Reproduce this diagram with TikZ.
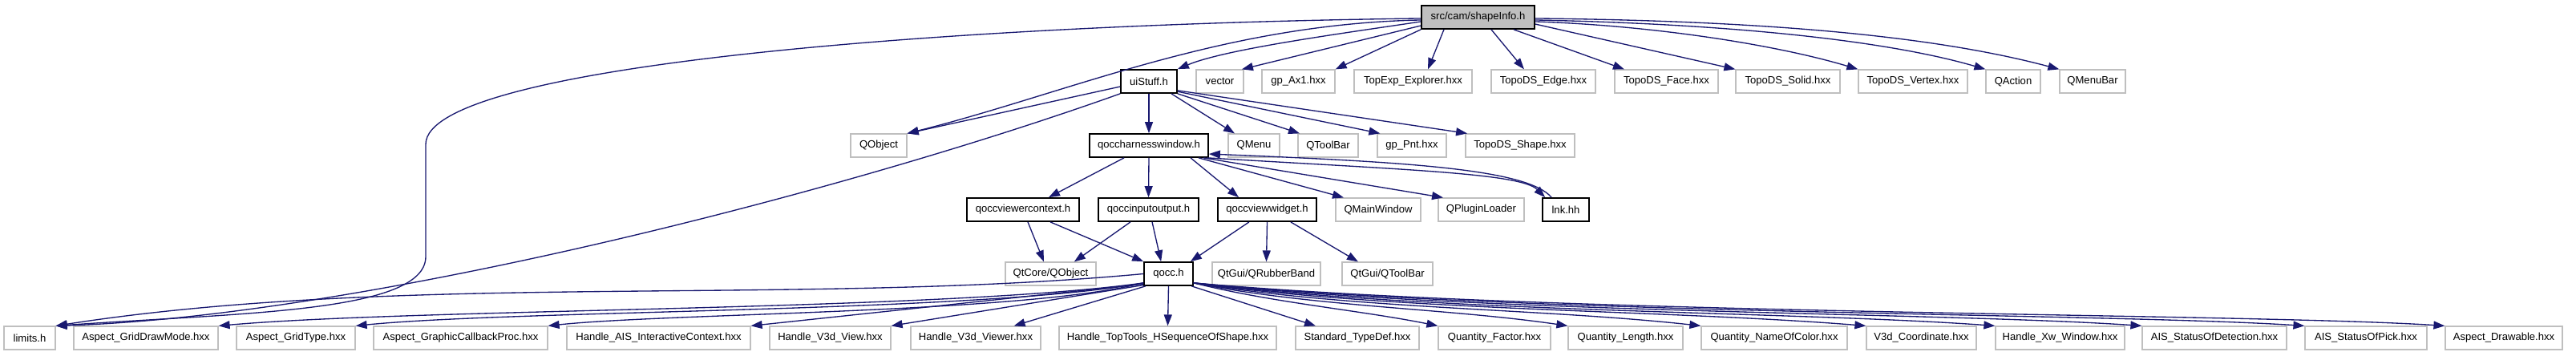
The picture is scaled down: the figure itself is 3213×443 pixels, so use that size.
\documentclass[tikz,border=0pt]{standalone}
\usepackage{fontspec}
\setmainfont{Liberation Sans}
\usetikzlibrary{arrows.meta}
\definecolor{edgeblue}{HTML}{191970}
\definecolor{boxgray}{HTML}{BFBFBF}

\begin{document}
\begin{tikzpicture}[
    x=0.75pt, y=-0.75pt,
    file/.style={draw=boxgray, line width=0.9pt, minimum height=21.75pt, inner sep=0pt, font=\fontsize{9.8}{11.8}\selectfont},
    docfile/.style={file, draw=black, line width=1.3pt},
    rootfile/.style={docfile, fill=boxgray},
    arr/.style={-{Triangle[length=10.5pt,width=7.5pt]}, draw=edgeblue, line width=1pt}
  ]
    \useasboundingbox (0,0) rectangle (3213,443);
    % rank 0
    \node[rootfile, minimum width=105.75pt] (shapeinfo) at (1843.5,21.5) {src/cam/shapeInfo.h};
    % rank 1
    \node[docfile, minimum width=52.5pt] (uistuff) at (1433,101.5) {uiStuff.h};
    \node[file, minimum width=44.25pt] (vector) at (1521.5,101.5) {vector};
    \node[file, minimum width=68.25pt] (gpaxone) at (1619.5,101.5) {gp\_Ax1.hxx};
    \node[file, minimum width=110.25pt] (topexp) at (1762.5,101.5) {TopExp\_Explorer.hxx};
    \node[file, minimum width=97.5pt] (tedge) at (1925,101.5) {TopoDS\_Edge.hxx};
    \node[file, minimum width=96.75pt] (tface) at (2078.5,101.5) {TopoDS\_Face.hxx};
    \node[file, minimum width=97.5pt] (tsolid) at (2230,101.5) {TopoDS\_Solid.hxx};
    \node[file, minimum width=102pt] (tvertex) at (2386,101.5) {TopoDS\_Vertex.hxx};
    \node[file, minimum width=51pt] (qaction) at (2511,101.5) {QAction};
    \node[file, minimum width=61.5pt] (qmenubar) at (2610,101.5) {QMenuBar};
    % rank 2
    \node[file, minimum width=52.5pt] (qobject) at (1096,181.5) {QObject};
    \node[docfile, minimum width=111pt] (harness) at (1433,181.5) {qoccharnesswindow.h};
    \node[file, minimum width=48pt] (qmenu) at (1564,181.5) {QMenu};
    \node[file, minimum width=56.25pt] (qtoolbar) at (1656.5,181.5) {QToolBar};
    \node[file, minimum width=64.5pt] (gppnt) at (1761,181.5) {gp\_Pnt.hxx};
    \node[file, minimum width=102pt] (tshape) at (1896,181.5) {TopoDS\_Shape.hxx};
    % rank 3
    \node[docfile, minimum width=105pt] (viewerctx) at (1276,261.5) {qoccviewercontext.h};
    \node[docfile, minimum width=93.75pt] (inout) at (1432.5,261.5) {qoccinputoutput.h};
    \node[docfile, minimum width=92.25pt] (viewwidget) at (1580.5,261.5) {qoccviewwidget.h};
    \node[file, minimum width=79.5pt] (qmainwindow) at (1719,261.5) {QMainWindow};
    \node[file, minimum width=80.25pt] (qpluginloader) at (1847.5,261.5) {QPluginLoader};
    \node[docfile, minimum width=43.5pt] (lnk) at (1953,261.5) {lnk.hh};
    % rank 4
    \node[file, minimum width=84.75pt] (qtcoreobj) at (1310.5,341.5) {QtCore/QObject};
    \node[docfile, minimum width=45.75pt] (qocc) at (1457.5,341.5) {qocc.h};
    \node[file, minimum width=101.25pt] (rubberband) at (1579.5,341.5) {QtGui/QRubberBand};
    \node[file, minimum width=84.75pt] (qtguitoolbar) at (1730.5,341.5) {QtGui/QToolBar};
    % rank 5
    \node[file, minimum width=48pt] (limits) at (37,421.5) {limits.h};
    \node[file, minimum width=135pt] (griddraw) at (182,421.5) {Aspect\_GridDrawMode.hxx};
    \node[file, minimum width=111pt] (gridtype) at (369,421.5) {Aspect\_GridType.hxx};
    \node[file, minimum width=162.75pt] (callback) at (574.5,421.5) {Aspect\_GraphicCallbackProc.hxx};
    \node[file, minimum width=171.75pt] (aisctx) at (821.5,421.5) {Handle\_AIS\_InteractiveContext.hxx};
    \node[file, minimum width=113.25pt] (v3dview) at (1035.5,421.5) {Handle\_V3d\_View.hxx};
    \node[file, minimum width=121.5pt] (v3dviewer) at (1217,421.5) {Handle\_V3d\_Viewer.hxx};
    \node[file, minimum width=203.25pt] (hseq) at (1456.5,421.5) {Handle\_TopTools\_HSequenceOfShape.hxx};
    \node[file, minimum width=115.5pt] (typedef) at (1693,421.5) {Standard\_TypeDef.hxx};
    \node[file, minimum width=105pt] (qfactor) at (1864,421.5) {Quantity\_Factor.hxx};
    \node[file, minimum width=107.25pt] (qlength) at (2027.5,421.5) {Quantity\_Length.hxx};
    \node[file, minimum width=136.5pt] (qcolor) at (2213,421.5) {Quantity\_NameOfColor.hxx};
    \node[file, minimum width=102.75pt] (v3dcoord) at (2396.5,421.5) {V3d\_Coordinate.hxx};
    \node[file, minimum width=120.75pt] (xwwindow) at (2569.5,421.5) {Handle\_Xw\_Window.hxx};
    \node[file, minimum width=135pt] (statusdet) at (2762,421.5) {AIS\_StatusOfDetection.hxx};
    \node[file, minimum width=114pt] (statuspick) at (2951,421.5) {AIS\_StatusOfPick.hxx};
    \node[file, minimum width=109.5pt] (drawable) at (3123,421.5) {Aspect\_Drawable.hxx};

    % shapeInfo.h
    \draw[arr] ([yshift=-1.1pt]shapeinfo.west) .. controls (1200,30) and (531,80) .. (531,180) -- (531,320) .. controls (531,390) and (300,390) .. (limits.north east);
    \draw[arr] ([yshift=-2.6pt]shapeinfo.west) .. controls +(-250,5) and +(200,-50) .. (qobject.north east);
    \draw[arr] ([yshift=-4.1pt]shapeinfo.west) .. controls +(-100,15) and +(60,-25) .. (uistuff.north east);
    \draw[arr] ([yshift=-7.9pt]shapeinfo.west) -- ([xshift=-2pt]vector.north east);
    \draw[arr] (shapeinfo.south west) -- (gpaxone.north east);
    \draw[arr] ([xshift=-31.9pt]shapeinfo.south) -- ([xshift=13.9pt]topexp.north);
    \draw[arr] ([xshift=12.4pt]shapeinfo.south) -- ([xshift=-18pt]tedge.north);
    \draw[arr] ([xshift=33.4pt]shapeinfo.south) -- ([xshift=-39.4pt]tface.north);
    \draw[arr] ([yshift=-6.4pt]shapeinfo.east) -- (tsolid.north west);
    \draw[arr] ([yshift=-4.1pt]shapeinfo.east) .. controls +(150,5) and +(-100,-30) .. (tvertex.north west);
    \draw[arr] ([yshift=-2.6pt]shapeinfo.east) .. controls +(250,5) and +(-120,-35) .. (qaction.north west);
    \draw[arr] ([yshift=-1.1pt]shapeinfo.east) .. controls +(300,3) and +(-150,-40) .. (qmenubar.north west);
    % uiStuff.h
    \draw[arr] ([yshift=-4.9pt]uistuff.west) -- (qobject.north east);
    \draw[arr] (uistuff.south west) .. controls +(-350,125) and +(380,-12) .. (limits.north east);
    \draw[arr] (uistuff.south) -- (harness.north);
    \draw[arr] ([xshift=21pt]uistuff.south) -- ([xshift=-18pt]qmenu.north);
    \draw[arr] (uistuff.south east) -- ([xshift=2pt]qtoolbar.north west);
    \draw[arr] ([yshift=2pt]uistuff.south east) -- ([xshift=3pt]gppnt.north west);
    \draw[arr] ([yshift=3pt]uistuff.south east) -- ([xshift=2pt]tshape.north west);
    % qoccharnesswindow.h
    \draw[arr] ([xshift=-23.25pt]harness.south) -- ([xshift=24pt]viewerctx.north);
    \draw[arr] (harness.south) -- (inout.north);
    \draw[arr] ([xshift=39pt]harness.south) -- ([xshift=-26.6pt]viewwidget.north);
    \draw[arr] ([xshift=46.5pt]harness.south) -- ([xshift=-32.25pt]qmainwindow.north);
    \draw[arr] ([xshift=-5pt]harness.south east) -- ([xshift=-35.6pt]qpluginloader.north);
    \draw[arr] ([xshift=-1.5pt]harness.south east) .. controls +(250,15) and +(-30,-30) .. ([xshift=3pt]lnk.north west);
    \draw[arr] ([xshift=9pt]lnk.north west) .. controls +(-30,-35) and +(250,10) .. ([yshift=-7.9pt]harness.east);
    % qoccviewercontext.h, qoccinputoutput.h, qoccviewwidget.h
    \draw[arr] ([xshift=4.5pt]viewerctx.south) -- ([xshift=-6.4pt]qtcoreobj.north);
    \draw[arr] ([xshift=25.5pt]viewerctx.south) -- (qocc.north west);
    \draw[arr] ([xshift=-16.9pt]inout.south) -- ([xshift=22pt]qtcoreobj.north);
    \draw[arr] ([xshift=3.4pt]inout.south) -- ([xshift=-7pt]qocc.north);
    \draw[arr] ([xshift=-16.9pt]viewwidget.south) -- ([xshift=-3pt]qocc.north east);
    \draw[arr] (viewwidget.south) -- (rubberband.north);
    \draw[arr] ([xshift=22pt]viewwidget.south) -- ([xshift=-27.4pt]qtguitoolbar.north);
    % qocc.h
    \draw[arr] (qocc.west) .. controls +(-430,40) and +(430,-67) .. (limits.north east);
    \draw[arr] ([yshift=3pt]qocc.south west) .. controls +(-250,35) and +(250,-22) .. (griddraw.north east);
    \draw[arr] ([yshift=3pt]qocc.south west) .. controls +(-200,37) and +(200,-20) .. (gridtype.north east);
    \draw[arr] ([yshift=3pt]qocc.south west) .. controls +(-150,38) and +(150,-16) .. (callback.north east);
    \draw[arr] ([yshift=2pt]qocc.south west) -- (aisctx.north east);
    \draw[arr] ([yshift=1pt]qocc.south west) -- (v3dview.north east);
    \draw[arr] ([xshift=2pt]qocc.south west) -- ([xshift=-25.5pt]v3dviewer.north east);
    \draw[arr] (qocc.south) -- (hseq.north);
    \draw[arr] ([xshift=-2pt]qocc.south east) -- ([xshift=-39pt]typedef.north);
    \draw[arr] ([yshift=3pt]qocc.south east) .. controls +(100,25) and +(-100,-20) .. (qfactor.north west);
    \draw[arr] ([yshift=3pt]qocc.south east) .. controls +(150,30) and +(-150,-22) .. (qlength.north west);
    \draw[arr] ([yshift=3pt]qocc.south east) .. controls +(200,33) and +(-200,-22) .. (qcolor.north west);
    \draw[arr] ([yshift=3pt]qocc.south east) .. controls +(250,35) and +(-250,-20) .. (v3dcoord.north west);
    \draw[arr] ([yshift=3pt]qocc.south east) .. controls +(300,37) and +(-250,-18) .. (xwwindow.north west);
    \draw[arr] ([yshift=3pt]qocc.south east) .. controls +(350,38) and +(-250,-17) .. (statusdet.north west);
    \draw[arr] ([yshift=3pt]qocc.south east) .. controls +(400,39) and +(-250,-16) .. (statuspick.north west);
    \draw[arr] ([yshift=3pt]qocc.south east) .. controls +(450,40) and +(-250,-16) .. (drawable.north west);
\end{tikzpicture}
\end{document}
